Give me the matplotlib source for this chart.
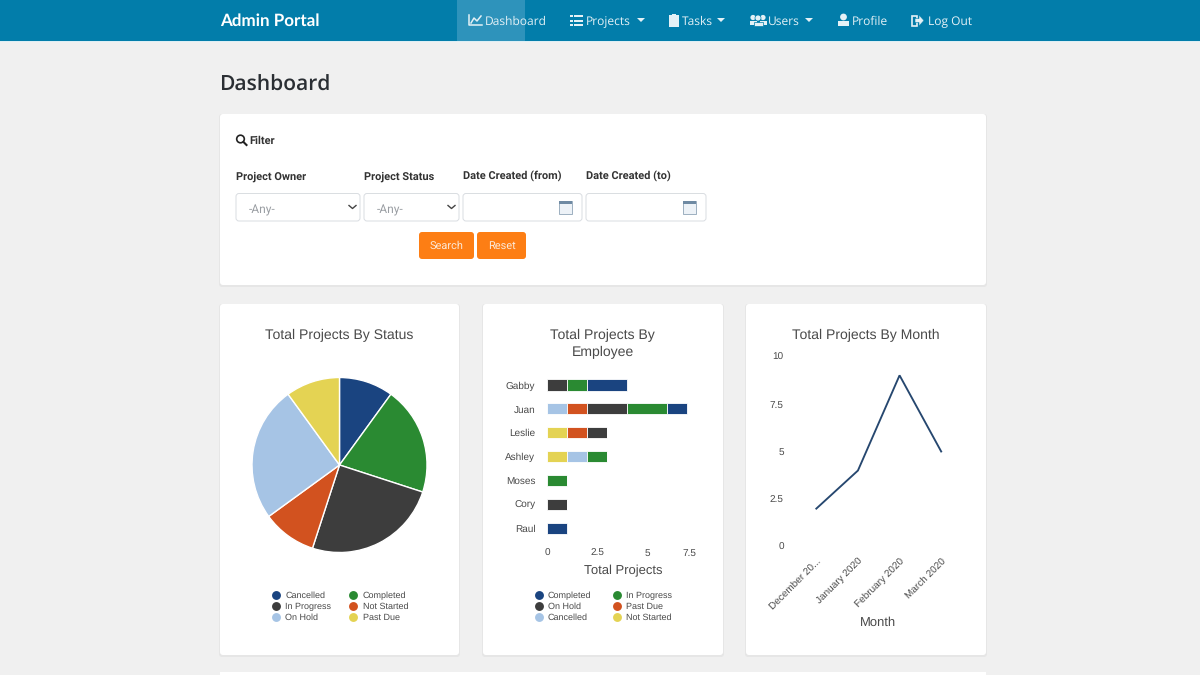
import matplotlib
matplotlib.use("Agg")
import matplotlib.pyplot as plt
from matplotlib.patches import FancyBboxPatch, Rectangle, Circle, Polygon
from matplotlib.lines import Line2D
from matplotlib.transforms import ScaledTranslation

plt.rcParams["text.hinting"] = "no_hinting"
plt.rcParams["text.hinting_factor"] = 1

# ---------- data ----------
pie_labels = ["Cancelled", "Completed", "In Progress", "Not Started", "On Hold", "Past Due"]
pie_values = [2, 4, 5, 2, 5, 2]
employees = ["Gabby", "Juan", "Leslie", "Ashley", "Moses", "Cory", "Raul"]
completed = [2, 1, 0, 0, 0, 0, 1]
in_progress = [1, 2, 0, 1, 1, 0, 0]
on_hold = [1, 2, 1, 0, 0, 1, 0]
past_due = [0, 1, 1, 0, 0, 0, 0]
cancelled = [0, 1, 0, 1, 0, 0, 0]
not_started = [0, 0, 1, 1, 0, 0, 0]
months = ["December 20...", "January 2020", "February 2020", "March 2020"]
month_totals = [2, 4, 9, 5]
bar_ticks = [0, 2.5, 5, 7.5]
bar_tick_labels = ["0", "2.5", "5", "7.5"]
line_ticks = [0, 2.5, 5, 7.5, 10]
line_tick_labels = ["0", "2.5", "5", "7.5", "10"]

C1, C2, C3, C4, C5, C6 = "#1A4480", "#2A8A32", "#3D3D3D", "#D2521F", "#A6C4E5", "#E4D353"
pie_colors = [C1, C2, C3, C4, C5, C6]

UI = "Open Sans"
CH = "Liberation Sans"
TXT = "#4A4A4A"

fig = plt.figure(figsize=(12, 6.75), dpi=100, facecolor="#F0F0F0")
ui = fig.add_axes([0, 0, 1, 1])
ui.set_xlim(0, 1200); ui.set_ylim(675, 0); ui.axis("off")


def px(l, t, r, b):
    return fig.add_axes([l / 1200, 1 - b / 675, (r - l) / 1200, (b - t) / 675])


def rbox(l, t, r, b, fc, ec="none", rad=3, lw=0.8, z=2):
    ui.add_patch(FancyBboxPatch((l + rad, t + rad), r - l - 2 * rad, b - t - 2 * rad,
                                boxstyle=f"round,pad={rad},rounding_size={rad}",
                                fc=fc, ec=ec, lw=lw, zorder=z))


def card(l, t, r, b):
    rbox(l - 1, t, r + 1, b + 2, "#E6E6E6", z=1)
    rbox(l, t, r, b, "white", z=2)


def label(x, y, s, size, color="#212529", weight="normal", family=UI, ha="left", z=6):
    # y is the text baseline in pixels
    ui.text(x, y, s, fontsize=size * 0.72, color=color, fontweight=weight, family=family,
            ha=ha, va="baseline", zorder=z)


# ---------- nav ----------
ui.add_patch(Rectangle((0, 0), 1200, 41, fc="#027DAA", ec="none", zorder=2))
ui.add_patch(Rectangle((0, 41), 1200, 1, fc="#DDEFF5", ec="none", zorder=2))
ui.add_patch(Rectangle((457, 0), 68, 41, fc="#2E93BB", ec="none", zorder=3))
label(220, 26, "Admin Portal", 16.6, "white", "bold", "Lato")
NAV = "#E4F1F6"
NS = 12.4
label(485, 25.3, "Dashboard", NS, NAV)
label(586, 25.3, "Projects", NS, NAV)
label(682, 25.3, "Tasks", NS, NAV)
label(768, 25.3, "Users", NS, NAV)
label(852, 25.3, "Profile", NS, NAV)
label(928, 25.3, "Log Out", NS, NAV)
# nav icons
ui.add_line(Line2D([469, 469, 482], [15, 25, 25], color=NAV, lw=1.1, zorder=6))
ui.add_line(Line2D([471, 474, 477, 481], [23, 18, 21, 16], color=NAV, lw=1.1, zorder=6))
for yy in (16, 20.5, 25):
    ui.add_patch(Rectangle((570, yy - 1), 2.5, 2.2, fc=NAV, ec="none", zorder=6))
    ui.add_patch(Rectangle((574, yy - 1), 9, 2.2, fc=NAV, ec="none", zorder=6))
ui.add_patch(Rectangle((669, 15), 10, 11.5, fc=NAV, ec="none", zorder=6))
ui.add_patch(Rectangle((672, 13.5), 4, 2.5, fc=NAV, ec="none", zorder=6))
for cx, r in ((753, 2.6), (763, 2.6)):
    ui.add_patch(Circle((cx, 17.5), r, fc=NAV, ec="none", zorder=6))
    ui.add_patch(Rectangle((cx - 3.5, 21), 7, 4, fc=NAV, ec="none", zorder=6))
ui.add_patch(Circle((758, 18), 3, fc=NAV, ec="#027DAA", lw=0.5, zorder=7))
ui.add_patch(Rectangle((753.5, 21.5), 9, 4.5, fc=NAV, ec="#027DAA", lw=0.5, zorder=7))
ui.add_patch(Circle((843.5, 17), 3.4, fc=NAV, ec="none", zorder=6))
ui.add_patch(Rectangle((838, 21), 11, 5, fc=NAV, ec="none", zorder=6))
ui.add_patch(Rectangle((912, 15.5), 5, 10, fc="none", ec=NAV, lw=1.2, zorder=6))
ui.add_patch(Polygon([(915, 18.5), (919, 18.5), (919, 15), (924, 20.5), (919, 26), (919, 22.5), (915, 22.5)],
                     fc=NAV, ec="#027DAA", lw=0.4, zorder=7))
for x0 in (637, 717, 805):
    ui.add_patch(Polygon([(x0, 18), (x0 + 8, 18), (x0 + 4, 22)], fc=NAV, ec="none", zorder=6))

label(219.5, 91, "Dashboard", 20.9, "#2A2E33", "semibold", "Open Sans")

# ---------- filter card ----------
card(220, 114, 986, 285)
ui.add_patch(Circle((240.5, 139), 3.8, fc="none", ec="#222", lw=1.2, zorder=6))
ui.add_line(Line2D([243.5, 246.5], [142, 145], color="#222", lw=1.5, zorder=6))
label(249, 144, "Filter", 11.2, "#333", "bold", "Roboto")
for x0, s in ((236, "Project Owner"), (364, "Project Status"), (463, "Date Created (from)"), (586, "Date Created (to)")):
    label(x0, 179.3, s, 11.2, "#333", "bold", "Roboto")
for l, r, has_text in ((236, 360, True), (364, 459, True), (463, 582, False), (586, 706, False)):
    rbox(l, 193.5, r, 221, "white", "#D9DDE1", rad=3, lw=0.7, z=3)
    if has_text:
        label(l + 13, 213, "-Any-", 12, "#9A9EA3", family="Roboto")
        ui.add_line(Line2D([r - 11, r - 7.5, r - 4], [205.5, 208.5, 205.5], color="#444", lw=1.0, zorder=6))
    else:
        ui.add_patch(Rectangle((r - 23, 201), 12.5, 12.5, fc="#EDF2F7", ec="#9DAFC0", lw=0.7, zorder=6))
        ui.add_patch(Rectangle((r - 23, 201), 12.5, 2.6, fc="#6F8AA3", ec="none", zorder=7))
rbox(419, 232, 474, 259, "#FD7E14", rad=3, z=3)
rbox(477, 232, 526, 259, "#FD7E14", rad=3, z=3)
label(446.5, 249, "Search", 11.5, "#FCE8D6", ha="center", family="Roboto")
label(501.5, 249, "Reset", 11.5, "#FCE8D6", ha="center", family="Roboto")

# ---------- chart cards ----------
card(220, 304, 459, 655)
card(483, 304, 723, 655)
card(746, 304, 986, 655)
TS = 14.3
label(339.5, 339.5, "Total Projects By Status", TS, TXT, family=CH, ha="center")
label(602.5, 339.5, "Total Projects By", TS, TXT, family=CH, ha="center")
label(602.5, 356, "Employee", TS, TXT, family=CH, ha="center")
label(866, 339.5, "Total Projects By Month", TS, TXT, family=CH, ha="center")


def legend(x_c, y_c, names, colors, colspace):
    # the reference reads row by row; matplotlib fills column by column
    idx = [0, 2, 4, 1, 3, 5]
    handles = [Line2D([], [], ls="", marker="o", ms=6.4, color=colors[i], mec="none") for i in idx]
    leg = fig.legend(handles, [names[i] for i in idx], loc="center",
                     bbox_to_anchor=(x_c / 1200, 1 - y_c / 675),
                     ncol=2, frameon=False, prop={"family": CH, "size": 6.35},
                     labelcolor=TXT, labelspacing=0.31, columnspacing=colspace, handletextpad=0.55,
                     handlelength=1.0, borderpad=0)
    return leg


# pie
ax = px(252, 377.5, 427, 552.5)
ax.pie(pie_values, colors=pie_colors, startangle=90, counterclock=False, radius=1,
       wedgeprops=dict(edgecolor="white", linewidth=1.0))
ax.set_xlim(-1, 1); ax.set_ylim(-1, 1); ax.patch.set_alpha(0)
legend(340, 606.5, pie_labels, pie_colors, 2.0)

# stacked bars
ax = px(547.2, 373, 696.8, 540.3)
ax.patch.set_alpha(0)
left = [0] * len(employees)
order = [(not_started, C6, "Not Started"), (cancelled, C5, "Cancelled"), (past_due, C4, "Past Due"),
         (on_hold, C3, "On Hold"), (in_progress, C2, "In Progress"), (completed, C1, "Completed")]
ypos = list(range(len(employees)))
for vals, col, name in order:
    ax.barh(ypos, vals, left=left, height=0.47, color=col, edgecolor="white", linewidth=0.6)
    left = [a + b for a, b in zip(left, vals)]
ax.set_xlim(0, 7.5); ax.set_ylim(6.5, -0.5)
for s in ax.spines.values():
    s.set_visible(False)
ax.set_yticks(ypos, employees, family=CH, fontsize=6.9, color=TXT)
ax.set_xticks(bar_ticks, bar_tick_labels, family=CH, fontsize=6.9, color=TXT)
ax.get_xticklabels()[-1].set_ha("right")
ax.tick_params(length=0, axis="y", pad=8.5)
ax.tick_params(length=0, axis="x", pad=6.3)
label(623.5, 574, "Total Projects", 12.5, TXT, family=CH, ha="center")
legend(603, 606.5, ["Completed", "In Progress", "On Hold", "Past Due", "Cancelled", "Not Started"],
       [C1, C2, C3, C4, C5, C6], 2.35)

# line
ax = px(795.5, 356.3, 962, 546.7)
ax.patch.set_alpha(0)
ax.plot(range(len(months)), month_totals, color="#26476F", lw=1.35, solid_joinstyle="miter")
ax.set_xlim(-0.5, 3.5); ax.set_ylim(0, 10)
for s in ax.spines.values():
    s.set_visible(False)
ax.set_yticks(line_ticks, line_tick_labels, family=CH, fontsize=6.9, color=TXT)
ax.set_xticks(range(len(months)), months, family=CH, fontsize=6.9, color=TXT,
              rotation=45, ha="right", rotation_mode="anchor")
shift = ScaledTranslation(-3 / 100, 0, fig.dpi_scale_trans)
for t in ax.get_xticklabels():
    t.set_transform(t.get_transform() + shift)
ax.tick_params(length=0, axis="y", pad=8.5)
ax.tick_params(length=0, axis="x", pad=7)
label(878.5, 626, "Month", 12.5, TXT, family=CH, ha="center")

# next card edge at the bottom
ui.add_patch(Rectangle((220, 672), 766, 3, fc="white", ec="none", zorder=2))

fig.savefig("out.png", dpi=100, facecolor=fig.get_facecolor())
